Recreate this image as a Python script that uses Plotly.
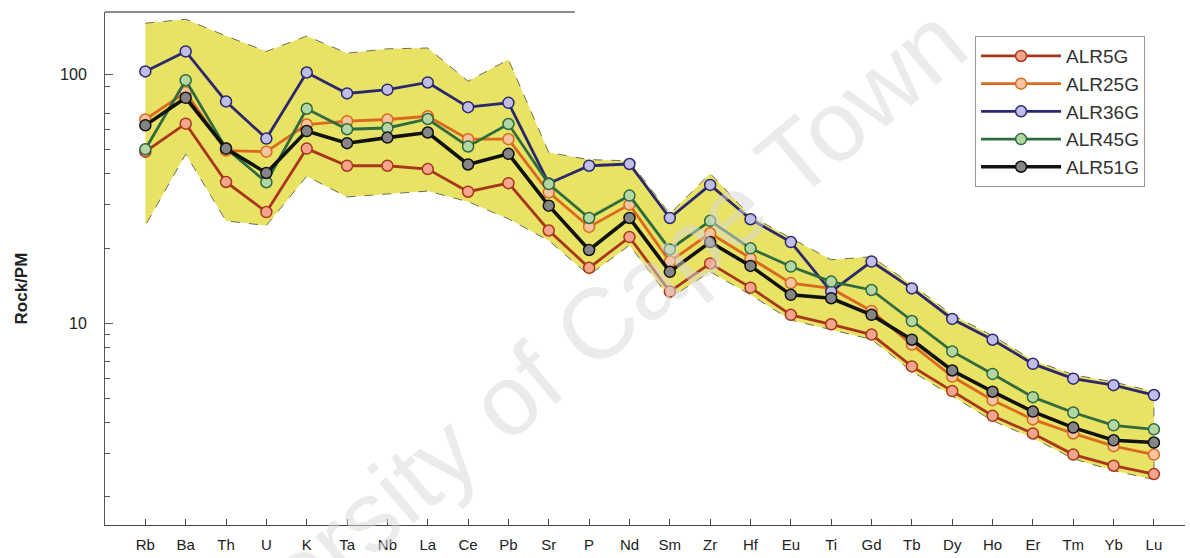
import plotly.graph_objects as go

elements = ["Rb", "Ba", "Th", "U", "K", "Ta", "Nb", "La", "Ce", "Pb", "Sr", "P", "Nd", "Sm",
            "Zr", "Hf", "Eu", "Ti", "Gd", "Tb", "Dy", "Ho", "Er", "Tm", "Yb", "Lu"]

alr5g = [49, 63.5, 37, 28, 50.4, 43, 43, 41.7, 33.8, 36.6, 23.6, 16.7, 22.2, 13.4,
         17.4, 13.9, 10.8, 9.9, 9.0, 6.7, 5.33, 4.24, 3.6, 2.96, 2.67, 2.47]
alr25g = [66, 85, 49.5, 49, 63, 65, 66, 68, 55, 55, 33.6, 24.4, 30, 17.7,
          23, 18.2, 14.5, 13.8, 11.2, 8.2, 6.1, 4.9, 4.1, 3.6, 3.2, 2.96]
alr36g = [103, 124, 78, 55.3, 102, 84, 87, 93, 74, 77, 36.5, 43, 43.7, 26.5,
          36, 26.2, 21.2, 13.4, 17.7, 13.8, 10.4, 8.58, 6.86, 5.98, 5.63, 5.14]
alr45g = [50.1, 95, 50.5, 36.9, 72.9, 60.3, 61, 66.3, 51.4, 63.3, 36.3, 26.5, 32.6, 19.8,
          25.8, 20, 16.9, 14.7, 13.6, 10.2, 7.7, 6.25, 5.04, 4.37, 3.88, 3.74]
alr51g = [62.5, 80.7, 50.4, 40.2, 59.3, 53, 55.8, 58.5, 43.5, 48, 29.7, 19.7, 26.5, 16.1,
          21.2, 17, 13, 12.6, 10.8, 8.58, 6.45, 5.3, 4.41, 3.8, 3.38, 3.31]

band_upper = [161, 167, 143, 124, 143, 122, 127, 128, 94, 115, 48.6, 45.5, 45, 27.5,
              40, 27, 22, 18, 18.5, 14.3, 10.8, 8.9, 7.1, 6.2, 5.8, 5.3]
band_lower = [24.7, 47.9, 25.8, 24.7, 39, 32.2, 33.1, 34, 30.8, 26.3, 21.5, 15.6, 20.6, 12.6,
              16.1, 13, 10.3, 9.4, 8.6, 6.4, 5.1, 4.05, 3.45, 2.85, 2.55, 2.35]

series = [
    ("ALR5G", alr5g, "#A8361C", "#F4A68C", 2.8),
    ("ALR25G", alr25g, "#DA681E", "#F7C4A0", 2.8),
    ("ALR36G", alr36g, "#2B2870", "#C0BDE6", 2.8),
    ("ALR45G", alr45g, "#2F6B3F", "#B4D6A2", 2.8),
    ("ALR51G", alr51g, "#111111", "#858585", 3.6),
]

idx = list(range(len(elements)))

fig = go.Figure()

# envelope polygon
fig.add_trace(go.Scatter(
    x=idx + idx[::-1],
    y=band_upper + band_lower[::-1],
    mode="lines", fill="toself", fillcolor="#E8E364",
    line=dict(color="#6E6E50", width=1, dash="dash"),
    showlegend=False, hoverinfo="skip"))

for i, (name, vals, lc, mc, lw) in enumerate(series):
    fig.add_trace(go.Scatter(
        x=idx, y=vals, name=name, mode="lines+markers",
        line=dict(color=lc, width=lw),
        marker=dict(symbol="circle", size=11, color=mc, line=dict(color=lc, width=1.5)),
    ))

minor_vals = [2, 3, 4, 5, 6, 7, 8, 9, 20, 30, 40, 50, 60, 70, 90]

fig.update_layout(
    width=1190, height=558,
    margin=dict(l=105, r=5, t=12, b=30),
    paper_bgcolor="white", plot_bgcolor="white",
    font=dict(family="Liberation Sans, Arial, sans-serif", color="#222"),
    showlegend=True,
    legend=dict(
        x=0.8056, y=0.953, xanchor="left", yanchor="top",
        bgcolor="white", bordercolor="#9A9A9A", borderwidth=1,
        font=dict(size=19, color="#333"),
        itemwidth=80,
    ),
    xaxis=dict(
        range=[-1, 25.77], showgrid=False, zeroline=False,
        tickmode="array", tickvals=idx, ticktext=elements,
        ticks="inside", ticklen=6, tickcolor="#444",
        showline=True, linecolor="#444", linewidth=1,
        tickfont=dict(size=15, color="#222"),
        ticklabelstandoff=6,
    ),
    yaxis=dict(
        type="log", range=[0.188, 2.252], showgrid=False, zeroline=False,
        tickmode="array", tickvals=[10, 100], ticktext=["10", "100"],
        ticks="inside", ticklen=8, tickcolor="#555",
        showline=True, linecolor="#555", linewidth=1,
        tickfont=dict(size=16, color="#222"),
        ticklabelstandoff=14,
        minor=dict(tickvals=minor_vals, ticks="inside", ticklen=5, tickcolor="#555"),
    ),
    shapes=[
        dict(type="line", xref="paper", yref="paper", x0=0, x1=0.435, y0=1, y1=1,
             line=dict(color="#666", width=1.5)),
    ],
    annotations=[
        dict(text="University of Cape Town", xref="paper", yref="paper",
             x=0.401, y=0.297, xanchor="center", yanchor="middle",
             showarrow=False, textangle=-40,
             font=dict(size=100, family="Liberation Sans, Arial, sans-serif",
                       color="rgba(215,215,215,0.5)")),
        dict(text="<b>Rock/PM</b>", xref="paper", yref="paper",
             x=-0.0769, y=0.461, showarrow=False, textangle=-90,
             xanchor="center", yanchor="middle",
             font=dict(size=17, color="#222")),
    ],
)

fig.write_html("out.html")
